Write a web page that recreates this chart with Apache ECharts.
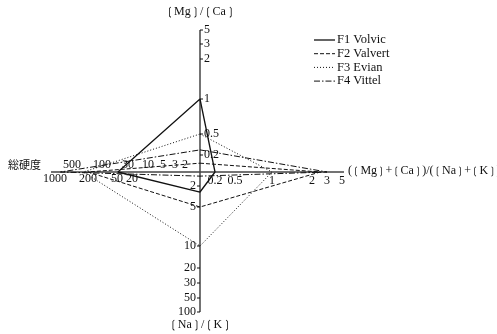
<!DOCTYPE html>
<html><head><meta charset="utf-8">
<script src="https://cdn.jsdelivr.net/npm/echarts@6/dist/echarts.min.js"></script>
<style>html,body{margin:0;padding:0;background:#fff}#c{width:497px;height:334px}</style>
</head><body><div id="c"></div>
<script>
// ---- data ----
const seriesNames = ['F1 Volvic', 'F2 Valvert', 'F3 Evian', 'F4 Vittel'];
const mgcaValues  = [1.0, 0.14, 0.5, 0.25];   // [Mg]/[Ca]  (up)
const ratioValues = [0.2, 2.5, 1.0, 3.0];     // ([Mg]+[Ca])/([Na]+[K])  (right)
const nakValues   = [2.6, 5, 10, 1.3];        // [Na]/[K]  (down)
const hardValues  = [48, 200, 260, 800];      // 総硬度  (left)

const mgcaTicks  = [0.2, 0.5, 1, 2, 3, 5];
const ratioTicks = [0.2, 0.5, 1, 2, 3, 5];
const nakTicks   = [2, 5, 10, 20, 30, 50, 100];
const hardTicks  = [2, 3, 5, 10, 20, 30, 50, 100, 200, 500, 1000];

// ---- layout (distance of each tick from the centre, px) ----
const mgcaPos  = [17, 38, 73, 113, 128, 142];
const ratioPos = [15, 35, 72, 112, 127, 142];
const nakPos   = [14, 35, 74, 96, 111, 126, 140];
const hardPos  = [15, 25, 37, 52, 68, 72, 83, 98, 112, 128, 145];
const hardAbove = [1, 1, 1, 1, 0, 1, 0, 1, 0, 1, 0];

const W = 497, H = 334, CX = 200, CY = 172;
const FONT = 'Liberation Serif';

function makeScale(ticks, pos) {
  const lt = ticks.map(Math.log10);
  return function (v) {
    const lv = Math.log10(v);
    let i = 0;
    if (lv >= lt[lt.length - 1]) i = lt.length - 2;
    else if (lv > lt[0]) { while (lv > lt[i + 1]) i++; }
    const d = pos[i] + (lv - lt[i]) * (pos[i + 1] - pos[i]) / (lt[i + 1] - lt[i]);
    return Math.max(0, d);
  };
}
const sTop = makeScale(mgcaTicks, mgcaPos);
const sRight = makeScale(ratioTicks, ratioPos);
const sBottom = makeScale(nakTicks, nakPos);
const sLeft = makeScale(hardTicks, hardPos);

const dashes = [null, [4, 2], [1, 2], [6, 2, 1.5, 2]];
const widths = [1.3, 1, 1, 1];

const polySeries = seriesNames.map((name, i) => {
  const t = sTop(mgcaValues[i]), r = sRight(ratioValues[i]), b = sBottom(nakValues[i]), l = sLeft(hardValues[i]);
  return {
    name, type: 'line', symbol: 'none', z: 5, silent: true, animation: false,
    lineStyle: { color: '#111', width: widths[i], type: dashes[i] || 'solid' },
    data: [[0, t], [r, 0], [0, -b], [-l, 0], [0, t]]
  };
});

// tick items
const tickItems = [];
mgcaTicks.forEach((v) => tickItems.push({ side: 'top', x: 0, y: sTop(v), label: String(v) }));
ratioTicks.forEach((v) => tickItems.push({ side: 'right', x: sRight(v), y: 0, label: String(v) }));
nakTicks.forEach((v) => tickItems.push({ side: 'bottom', x: 0, y: -sBottom(v), label: String(v) }));
hardTicks.forEach((v, k) => tickItems.push({ side: hardAbove[k] ? 'leftA' : 'leftB', x: -sLeft(v), y: 0, label: String(v) }));

const tickSeries = {
  type: 'custom', silent: true, animation: false, z: 6,
  data: tickItems.map(t => [t.x, t.y]),
  encode: { x: 0, y: 1 },
  renderItem: function (params, api) {
    const t = tickItems[params.dataIndex];
    const p = api.coord([t.x, t.y]);
    const ch = [];
    const ts = { fill: '#111', fontFamily: FONT, fontSize: 12 };
    if (t.side === 'top') {
      ch.push({ type: 'line', shape: { x1: p[0], y1: p[1], x2: p[0] + 3, y2: p[1] }, style: { stroke: '#111', lineWidth: 1 } });
      ch.push({ type: 'text', x: p[0] + 4, y: p[1], style: Object.assign({ text: t.label, align: 'left', verticalAlign: 'middle' }, ts) });
    } else if (t.side === 'bottom') {
      ch.push({ type: 'line', shape: { x1: p[0], y1: p[1], x2: p[0] - 3, y2: p[1] }, style: { stroke: '#111', lineWidth: 1 } });
      ch.push({ type: 'text', x: p[0] - 4, y: p[1], style: Object.assign({ text: t.label, align: 'right', verticalAlign: 'middle' }, ts) });
    } else if (t.side === 'right') {
      ch.push({ type: 'text', x: p[0], y: p[1] + 3, style: Object.assign({ text: t.label, align: 'center', verticalAlign: 'top' }, ts) });
    } else if (t.side === 'leftA') {
      ch.push({ type: 'text', x: p[0], y: p[1] - 1, style: Object.assign({ text: t.label, align: 'center', verticalAlign: 'bottom' }, ts) });
    } else {
      ch.push({ type: 'text', x: p[0], y: p[1] + 1, style: Object.assign({ text: t.label, align: 'center', verticalAlign: 'top' }, ts) });
    }
    return { type: 'group', children: ch };
  }
};

const axisSeries = [
  { type: 'line', symbol: 'none', silent: true, animation: false, z: 4,
    lineStyle: { color: '#444', width: 1.5 },
    data: [[0, sTop(mgcaTicks[mgcaTicks.length - 1])], [0, -sBottom(nakTicks[nakTicks.length - 1])]] },
  { type: 'line', symbol: 'none', silent: true, animation: false, z: 4,
    lineStyle: { color: '#444', width: 1.5 },
    data: [[-sLeft(hardTicks[hardTicks.length - 1]) - 4, 0], [sRight(ratioTicks[ratioTicks.length - 1]) + 2, 0]] }
];

// manual legend (line + text)
const legendTop = 40, legendGap = 13.7;
const legendGraphics = [];
seriesNames.forEach((n, i) => {
  const y = legendTop + i * legendGap;
  legendGraphics.push({ type: 'line', shape: { x1: 314, y1: y, x2: 335, y2: y },
    style: { stroke: '#111', lineWidth: widths[i], lineDash: dashes[i] } });
  legendGraphics.push({ type: 'text', x: 337, y: y, style: { text: n, fontFamily: FONT, fontSize: 12.5, fill: '#111', verticalAlign: 'middle' } });
});

const capRich = { b: { fontFamily: 'DejaVu Sans', fontSize: 11, fill: '#111' } };
const capRichR = { b: { fontFamily: 'DejaVu Sans', fontSize: 10, fill: '#111' } };

const chart = echarts.init(document.getElementById('c'), null, { renderer: 'canvas' });
chart.setOption({
  animation: false,
  backgroundColor: '#fff',
  grid: { left: 0, right: 0, top: 0, bottom: 0 },
  xAxis: { type: 'value', min: -CX, max: W - CX, show: false },
  yAxis: { type: 'value', min: -(H - CY), max: CY, show: false },
  graphic: legendGraphics.concat([
    { type: 'text', x: 200, y: 12, style: { text: '{b|❲}Mg{b|❳}/{b|❲}Ca{b|❳}', rich: capRich, fontFamily: FONT, fontSize: 12, fill: '#111', align: 'center', verticalAlign: 'middle' } },
    { type: 'text', x: 200, y: 325, style: { text: '{b|❲}Na{b|❳}/{b|❲}K{b|❳}', rich: capRich, fontFamily: FONT, fontSize: 12, fill: '#111', align: 'center', verticalAlign: 'middle' } },
    { type: 'text', x: 348, y: 171, style: { text: '({b|❲}Mg{b|❳}+{b|❲}Ca{b|❳})/({b|❲}Na{b|❳}+{b|❲}K{b|❳})', rich: capRichR, fontFamily: FONT, fontSize: 12, fill: '#111', align: 'left', verticalAlign: 'middle' } },
    { type: 'text', x: 8, y: 165, style: { text: '総硬度', fontFamily: 'Noto Sans CJK JP', fontSize: 11, fill: '#111', verticalAlign: 'middle' } }
  ]),
  series: axisSeries.concat(polySeries, [tickSeries])
});
</script></body></html>
